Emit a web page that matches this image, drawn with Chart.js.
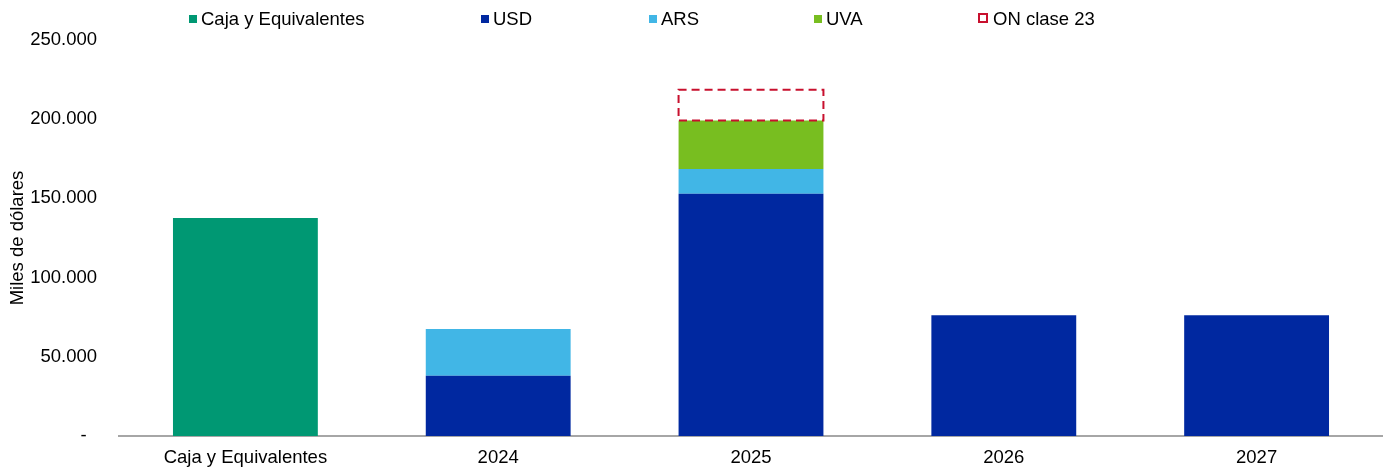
<!DOCTYPE html>
<html>
<head>
<meta charset="utf-8">
<script src="https://cdn.jsdelivr.net/npm/chart.js@4"></script>
<style>
  body { margin: 0; background: #fff; }
  #wrap { position: relative; width: 1383px; height: 467px; font-family: "Liberation Sans", Arial, sans-serif; }
  .leg { position: absolute; top: 8px; font-size: 18.5px; line-height: 22px; color: #000; white-space: nowrap; }
  .leg i { display: inline-block; width: 8px; height: 8px; margin-right: 4px; vertical-align: 2px; }
  .leg i.dash { width: 6px; height: 6px; background: none; border: 2px dashed #c8102e; margin-right: 5px; }
</style>
</head>
<body>
<div id="wrap">
  <div id="legend"></div>
  <canvas id="grafico" width="1383" height="467"></canvas>
</div>
<script>
const categorias = ["Caja y Equivalentes", "2024", "2025", "2026", "2027"];
const caja = [137700, null, null, null, null];
const usd = [null, 38000, 153000, 76200, 76200];
const ars = [null, 29500, 15600, null, null];
const uva = [null, null, 30600, null, null];
const onClase23 = [null, null, 19400, null, null];

const series = [
  { label: "Caja y Equivalentes", data: caja, color: "#009873" },
  { label: "USD", data: usd, color: "#0028a0" },
  { label: "ARS", data: ars, color: "#41b6e6" },
  { label: "UVA", data: uva, color: "#78be20" },
  { label: "ON clase 23", data: onClase23, color: "#c8102e", dashed: true }
];

// leyenda en columnas fijas como en el original
const legendLeft = [189, 481, 649, 814, 978];
const legend = document.getElementById("legend");
series.forEach((s, i) => {
  const item = document.createElement("div");
  item.className = "leg";
  item.style.left = legendLeft[i] + "px";
  const box = document.createElement("i");
  if (s.dashed) box.className = "dash";
  else box.style.background = s.color;
  item.appendChild(box);
  item.appendChild(document.createTextNode(s.label));
  legend.appendChild(item);
});

const cajaPunteada = {
  id: "cajaPunteada",
  afterDatasetsDraw(chart) {
    const ctx = chart.ctx;
    chart.data.datasets.forEach((ds, idx) => {
      if (!ds.dashed) return;
      const meta = chart.getDatasetMeta(idx);
      ctx.save();
      ctx.strokeStyle = ds.dashColor;
      ctx.lineWidth = 2;
      ctx.setLineDash([8, 5]);
      meta.data.forEach((bar, i) => {
        if (ds.data[i] == null) return;
        const { x, y, base, width } = bar.getProps(["x", "y", "base", "width"], true);
        ctx.strokeRect(x - width / 2, y, width, base - y);
      });
      ctx.restore();
    });
  }
};

const fmt = v => v === 0 ? "-  " : v.toString().replace(/\B(?=(\d{3})+(?!\d))/g, ".");

Chart.defaults.font.family = '"Liberation Sans", Arial, sans-serif';
Chart.defaults.font.size = 18.5;
Chart.defaults.color = "#000";

new Chart(document.getElementById("grafico").getContext("2d"), {
  type: "bar",
  data: {
    labels: categorias,
    datasets: series.map(s => ({
      label: s.label,
      data: s.data,
      backgroundColor: s.dashed ? "rgba(0,0,0,0)" : s.color,
      borderWidth: 0,
      dashed: !!s.dashed,
      dashColor: s.color,
      stack: "a",
      barPercentage: 0.573,
      categoryPercentage: 1.0
    }))
  },
  options: {
    responsive: false,
    devicePixelRatio: 1,
    animation: false,
    events: [],
    layout: { padding: { top: 40, right: 0, bottom: 0, left: 0 } },
    plugins: {
      legend: { display: false },
      tooltip: { enabled: false }
    },
    scales: {
      x: {
        stacked: true,
        grid: { display: false, drawTicks: false },
        border: { display: true, color: "#a6a6a6", width: 2 },
        ticks: { padding: 11, maxRotation: 0 },
        afterFit: scale => { scale.height = 31; }
      },
      y: {
        stacked: true,
        min: 0,
        max: 250000,
        grid: { display: false, drawTicks: false },
        border: { display: false },
        ticks: { stepSize: 50000, padding: 22, callback: fmt },
        title: { display: true, text: "Miles de dólares", padding: { top: 7, bottom: 0 } },
        afterFit: scale => {
          scale.width = 119;
          scale.paddingTop = 0;
          scale.paddingBottom = 0;
        }
      }
    }
  },
  plugins: [cajaPunteada]
});
</script>
</body>
</html>
